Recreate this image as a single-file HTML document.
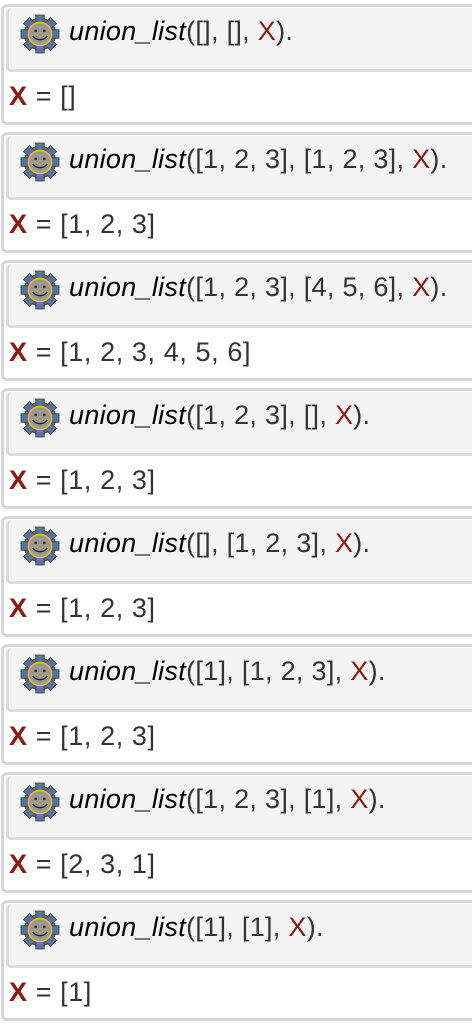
<!DOCTYPE html>
<html><head><style>
body{margin:0;width:472px;height:1030px;overflow:hidden;background:#fff;font-family:"Liberation Sans",Arial,sans-serif;}
.blk{position:absolute;left:1px;width:490px;height:121px;border:3px solid #d6d6d6;border-right:none;border-radius:6px 0 0 6px;box-sizing:border-box;background:#fff;}
.hd{position:absolute;left:2px;top:1px;right:0;height:64px;background:#f3f3f3;border:3px solid #dcdcdc;border-right:none;border-top:none;border-radius:5px 0 0 5px;box-sizing:border-box;}
.hd svg{position:absolute;left:10px;top:5px;}
.q{position:absolute;left:60px;top:8px;font-size:27px;color:#333;white-space:nowrap;letter-spacing:0.3px}
.q i{font-style:italic;color:#000}
.v{color:#8b1a10}
.a{position:absolute;left:5px;top:74px;font-size:27px;color:#333;white-space:nowrap;letter-spacing:0.6px}
.a b{color:#8b1a10}
</style></head><body>
<svg width="0" height="0" style="position:absolute"><defs>
<g id="g"><g fill="#5c7296" stroke="#3d4e6a" stroke-width="1">
<circle cx="20" cy="20" r="15"/>
<rect x="16" y="2" width="8" height="8"/><rect x="16" y="30" width="8" height="8"/>
<rect x="2" y="16" width="8" height="8"/><rect x="30" y="16" width="8" height="8"/>
<rect x="16" y="2" width="8" height="8" transform="rotate(45 20 20)"/><rect x="16" y="30" width="8" height="8" transform="rotate(45 20 20)"/>
<rect x="2" y="16" width="8" height="8" transform="rotate(45 20 20)"/><rect x="30" y="16" width="8" height="8" transform="rotate(45 20 20)"/>
</g>
<circle cx="20" cy="20" r="11" fill="#9a9a8e" stroke="#e8b84a" stroke-width="1.5"/>
<circle cx="16" cy="17" r="1.3" fill="#222"/><circle cx="24" cy="17" r="1.3" fill="#222"/>
<path d="M13 22 Q20 29 27 22" fill="none" stroke="#222" stroke-width="1.3"/></g>
</defs></svg>
<div class="blk" style="top:4px"><div class="hd"><svg width="42" height="42" viewBox="0 0 40 40"><use href="#g"/></svg><div class="q"><i>union_list</i>([], [], <span class="v">X</span>).</div></div><div class="a"><b>X</b> = []</div></div>
<div class="blk" style="top:132px"><div class="hd"><svg width="42" height="42" viewBox="0 0 40 40"><use href="#g"/></svg><div class="q"><i>union_list</i>([1, 2, 3], [1, 2, 3], <span class="v">X</span>).</div></div><div class="a"><b>X</b> = [1, 2, 3]</div></div>
<div class="blk" style="top:260px"><div class="hd"><svg width="42" height="42" viewBox="0 0 40 40"><use href="#g"/></svg><div class="q"><i>union_list</i>([1, 2, 3], [4, 5, 6], <span class="v">X</span>).</div></div><div class="a"><b>X</b> = [1, 2, 3, 4, 5, 6]</div></div>
<div class="blk" style="top:388px"><div class="hd"><svg width="42" height="42" viewBox="0 0 40 40"><use href="#g"/></svg><div class="q"><i>union_list</i>([1, 2, 3], [], <span class="v">X</span>).</div></div><div class="a"><b>X</b> = [1, 2, 3]</div></div>
<div class="blk" style="top:516px"><div class="hd"><svg width="42" height="42" viewBox="0 0 40 40"><use href="#g"/></svg><div class="q"><i>union_list</i>([], [1, 2, 3], <span class="v">X</span>).</div></div><div class="a"><b>X</b> = [1, 2, 3]</div></div>
<div class="blk" style="top:644px"><div class="hd"><svg width="42" height="42" viewBox="0 0 40 40"><use href="#g"/></svg><div class="q"><i>union_list</i>([1], [1, 2, 3], <span class="v">X</span>).</div></div><div class="a"><b>X</b> = [1, 2, 3]</div></div>
<div class="blk" style="top:772px"><div class="hd"><svg width="42" height="42" viewBox="0 0 40 40"><use href="#g"/></svg><div class="q"><i>union_list</i>([1, 2, 3], [1], <span class="v">X</span>).</div></div><div class="a"><b>X</b> = [2, 3, 1]</div></div>
<div class="blk" style="top:900px"><div class="hd"><svg width="42" height="42" viewBox="0 0 40 40"><use href="#g"/></svg><div class="q"><i>union_list</i>([1], [1], <span class="v">X</span>).</div></div><div class="a"><b>X</b> = [1]</div></div>
</body></html>
